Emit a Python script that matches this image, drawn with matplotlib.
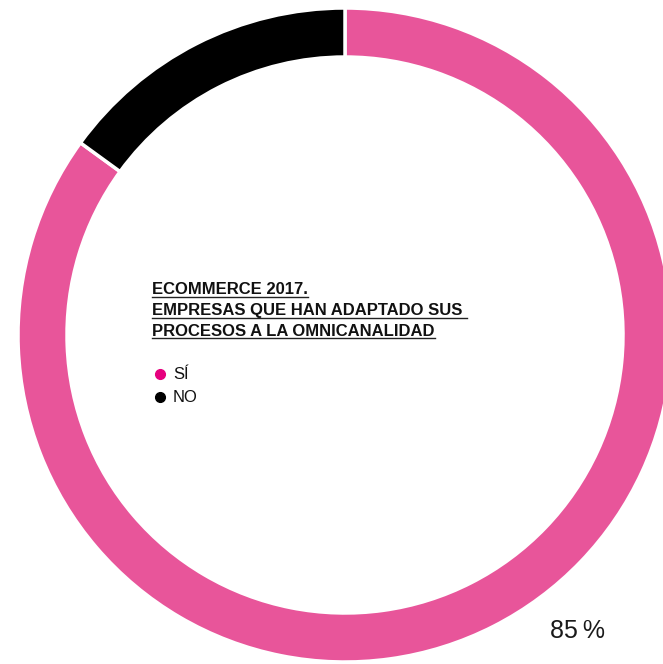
import matplotlib
matplotlib.use("Agg")
import matplotlib.pyplot as plt
from matplotlib.lines import Line2D

plt.rcParams['font.family'] = ['Liberation Sans', 'DejaVu Sans']

labels = ['SÍ', 'NO']
values = [85, 15]
ring_colors = ['#E8559A', '#000000']
legend_colors = ['#E6007E', '#000000']
title_lines = ['ECOMMERCE 2017.', 'EMPRESAS QUE HAN ADAPTADO SUS ', 'PROCESOS A LA OMNICANALIDAD']

W, H = 663, 664
fig = plt.figure(figsize=(W / 100, H / 100), dpi=100)

# donut, drawn in its own axes so pie keeps y up
pax = fig.add_axes([0, 0, 1, 1])
cx, cy, r = 345, H - 335, 327
pax.pie(values, colors=ring_colors, startangle=90, counterclock=False,
        center=(cx, cy), radius=r, frame=True,
        wedgeprops=dict(width=49, edgecolor='white', linewidth=2.5))
pax.set_xlim(0, W)
pax.set_ylim(0, H)
pax.axis('off')

# overlay in pixel coords, y down
ax = fig.add_axes([0, 0, 1, 1])
ax.set_xlim(0, W)
ax.set_ylim(H, 0)
ax.axis('off')

ax.text(550, 638, f'{values[0]}\u2009%', fontsize=18,
        color='#1a1a1a', va='baseline', ha='left')

# underlined title lines
texts = []
for i, line in enumerate(title_lines):
    t = ax.text(152, 294.3 + i * 20.7, line, fontsize=12, fontweight='bold',
                color='#111111', va='baseline', ha='left')
    texts.append(t)

fig.canvas.draw()
renderer = fig.canvas.get_renderer()
inv = ax.transData.inverted()
for t in texts:
    bb = t.get_window_extent(renderer)
    x0, _ = inv.transform((bb.x0, bb.y0))
    x1, _ = inv.transform((bb.x1, bb.y0))
    y = t.get_position()[1] + 2.6
    ax.add_line(Line2D([x0, x1], [y, y], color='#222222', linewidth=1.0))

for i, (lab, col) in enumerate(zip(labels, legend_colors)):
    y = 373.5 + i * 23
    ax.plot(160, y, 'o', color=col, markersize=7)
    ax.text(173, y + 5.8, lab, fontsize=12, color='#111111', va='baseline', ha='left')

fig.savefig('out.png', dpi=100)
